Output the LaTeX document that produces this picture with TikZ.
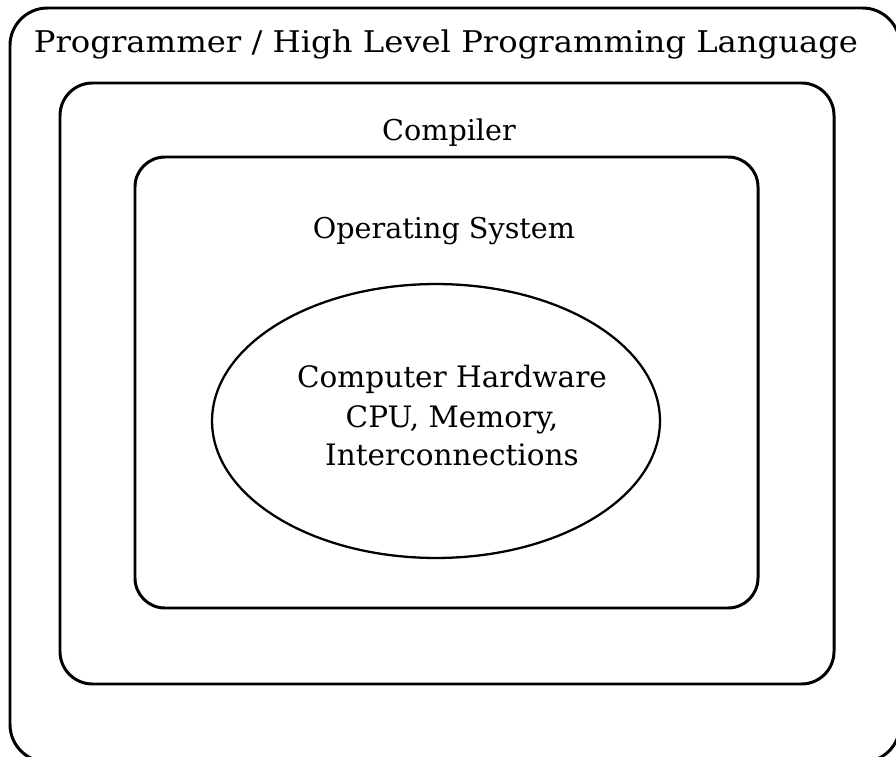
\documentclass[tikz,border=0pt]{standalone}
\usepackage{fontspec}
\setmainfont{DejaVu Serif}
\newfontfamily\widefont[FakeStretch=1.08]{DejaVu Serif}
\usetikzlibrary{shapes.geometric}
\begin{document}
\begin{tikzpicture}[x=0.02cm,y=-0.02cm,
  layer/.style={draw=black,line width=1.7pt,rounded corners=0.65cm},
  lbl/.style={font=\fontsize{16.3}{22}\selectfont,inner sep=0pt,anchor=base}]
\useasboundingbox (0,0) rectangle (896,757);
\fill[white] (0,0) rectangle (896,757);
\draw[layer,rounded corners=0.75cm] (10,8) rectangle (900,762);
\draw[layer] (60,83) rectangle (834,684);
\draw[layer,rounded corners=0.6cm] (135,157) rectangle (758,608);
\node[draw,line width=1.3pt,ellipse,minimum width=8.96cm,minimum height=5.48cm,inner sep=0pt] (hw) at (436,421) {};
\node[lbl,font=\widefont\fontsize{17}{22}\selectfont] (prog) at (446,53) {Programmer / High Level Programming Language};
\node[lbl] (comp) at (449,140) {Compiler};
\node[lbl] (os) at (444,238) {Operating System};
\node[lbl,font=\fontsize{16.8}{22}\selectfont] (hw1) at (452,387) {Computer Hardware};
\node[lbl,font=\fontsize{16.8}{22}\selectfont] (hw2) at (452,427) {CPU, Memory,};
\node[lbl,font=\fontsize{16.8}{22}\selectfont] (hw3) at (452,465) {Interconnections};
\end{tikzpicture}
\end{document}
